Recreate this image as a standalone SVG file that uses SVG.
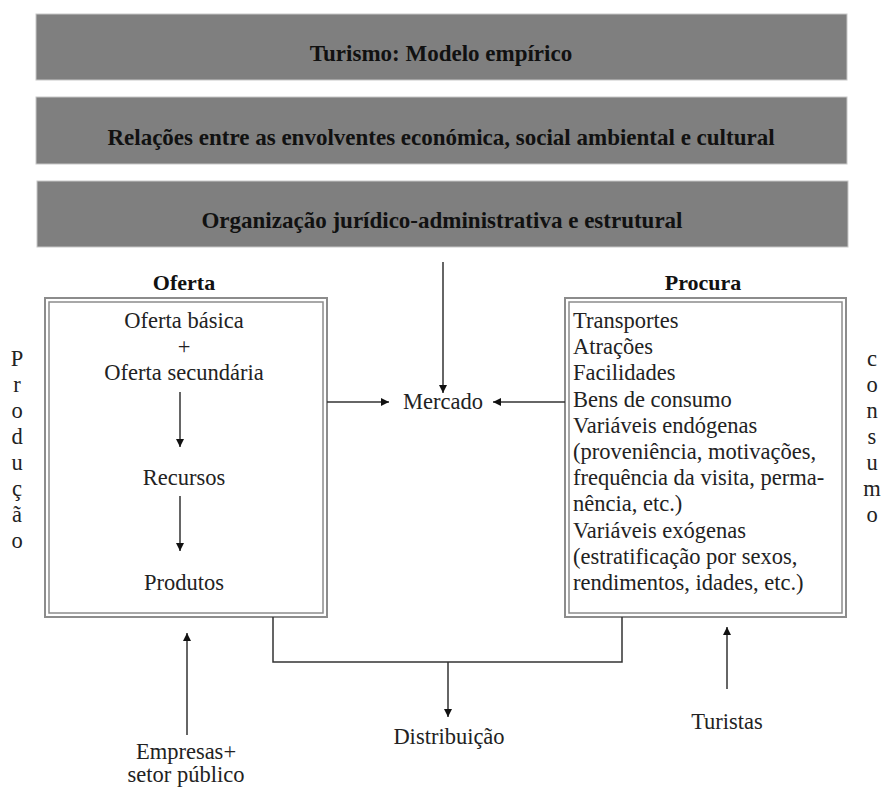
<svg xmlns="http://www.w3.org/2000/svg" width="885" height="787" viewBox="0 0 885 787" font-family="Liberation Serif, serif">
<defs>
<style>
.bar{fill:#7f7f7f;stroke:#c8c8c8;stroke-width:1}
.ht{font-weight:bold;font-size:23px;fill:#111;text-anchor:middle}
.t{font-size:22.5px;fill:#222}
.tb{font-size:22px;font-weight:bold;fill:#111;text-anchor:middle}
.c{text-anchor:middle}
.bo{fill:none;stroke:#8c8c8c;stroke-width:2}
.bi{fill:none;stroke:#8c8c8c;stroke-width:1.5}
.ln{fill:none;stroke:#333;stroke-width:1.5}
</style>
<marker id="ah" viewBox="0 0 10 10" refX="10" refY="5" markerWidth="9" markerHeight="8" markerUnits="userSpaceOnUse" orient="auto">
<path d="M0,0 L10,5 L0,10 z" fill="#111"/>
</marker>
</defs>
<rect width="885" height="787" fill="#fff"/>

<g id="bar1"><rect class="bar" x="36" y="14" width="811" height="66"/><text class="ht" font-family="Liberation Serif" x="441" y="61">Turismo: Modelo empírico</text></g>
<g id="bar2"><rect class="bar" x="36" y="97" width="811" height="67"/><text class="ht" font-family="Liberation Serif" x="441" y="145">Relações entre as envolventes económica, social ambiental e cultural</text></g>
<g id="bar3"><rect class="bar" x="37" y="181" width="811" height="66"/><text class="ht" font-family="Liberation Serif" x="442" y="228">Organização jurídico-administrativa e estrutural</text></g>

<g id="oferta" font-family="Liberation Serif">
<text class="tb" x="184" y="290">Oferta</text>
<rect class="bo" x="45" y="298" width="282" height="319"/>
<rect class="bi" x="49" y="302" width="274" height="311"/>
<text class="t c" x="184" y="328">Oferta básica</text>
<text class="t c" x="184" y="354">+</text>
<text class="t c" x="184" y="380">Oferta secundária</text>
<text class="t c" x="184" y="485">Recursos</text>
<text class="t c" x="184" y="590">Produtos</text>
</g>

<g id="procura" font-family="Liberation Serif">
<text class="tb" x="703" y="290">Procura</text>
<rect class="bo" x="565" y="298" width="281" height="319"/>
<rect class="bi" x="569" y="302" width="273" height="311"/>
<text class="t" x="573" y="328">Transportes</text>
<text class="t" x="573" y="354">Atrações</text>
<text class="t" x="573" y="380">Facilidades</text>
<text class="t" x="573" y="407">Bens de consumo</text>
<text class="t" x="573" y="433">Variáveis endógenas</text>
<text class="t" x="573" y="459">(proveniência, motivações,</text>
<text class="t" x="573" y="485">frequência da visita, perma-</text>
<text class="t" x="573" y="511">nência, etc.)</text>
<text class="t" x="573" y="538">Variáveis exógenas</text>
<text class="t" x="573" y="564">(estratificação por sexos,</text>
<text class="t" x="573" y="590">rendimentos, idades, etc.)</text>
</g>

<g id="producao" font-family="Liberation Serif">
<text class="t c" x="17" y="366">P</text>
<text class="t c" x="17" y="392">r</text>
<text class="t c" x="17" y="418">o</text>
<text class="t c" x="17" y="444">d</text>
<text class="t c" x="17" y="470">u</text>
<text class="t c" x="17" y="496">ç</text>
<text class="t c" x="17" y="522">ã</text>
<text class="t c" x="17" y="548">o</text>
</g>

<g id="consumo" font-family="Liberation Serif">
<text class="t c" x="872" y="366">c</text>
<text class="t c" x="872" y="392">o</text>
<text class="t c" x="872" y="418">n</text>
<text class="t c" x="872" y="444">s</text>
<text class="t c" x="872" y="470">u</text>
<text class="t c" x="872" y="496">m</text>
<text class="t c" x="872" y="522">o</text>
</g>

<g id="mercado" font-family="Liberation Serif"><text class="t" x="403" y="409">Mercado</text></g>
<g id="distribuicao" font-family="Liberation Serif"><text class="t c" x="449" y="744">Distribuição</text></g>
<g id="turistas" font-family="Liberation Serif"><text class="t c" x="727" y="729">Turistas</text></g>
<g id="empresas" font-family="Liberation Serif"><text class="t c" x="186" y="759">Empresas+</text><text class="t c" x="186" y="782">setor público</text></g>

<g id="connectors">
<line class="ln" x1="180" y1="392" x2="180" y2="447" marker-end="url(#ah)"/>
<line class="ln" x1="180" y1="496" x2="180" y2="551" marker-end="url(#ah)"/>
<line class="ln" x1="443" y1="262" x2="443" y2="393" marker-end="url(#ah)"/>
<line class="ln" x1="327" y1="402" x2="389" y2="402" marker-end="url(#ah)"/>
<line class="ln" x1="565" y1="402" x2="493" y2="402" marker-end="url(#ah)"/>
<polyline class="ln" points="273,617 273,662 622,662 622,617"/>
<line class="ln" x1="448" y1="662" x2="448" y2="717" marker-end="url(#ah)"/>
<line class="ln" x1="187" y1="735" x2="187" y2="633" marker-end="url(#ah)"/>
<line class="ln" x1="727" y1="689" x2="727" y2="627" marker-end="url(#ah)"/>
</g>
</svg>
